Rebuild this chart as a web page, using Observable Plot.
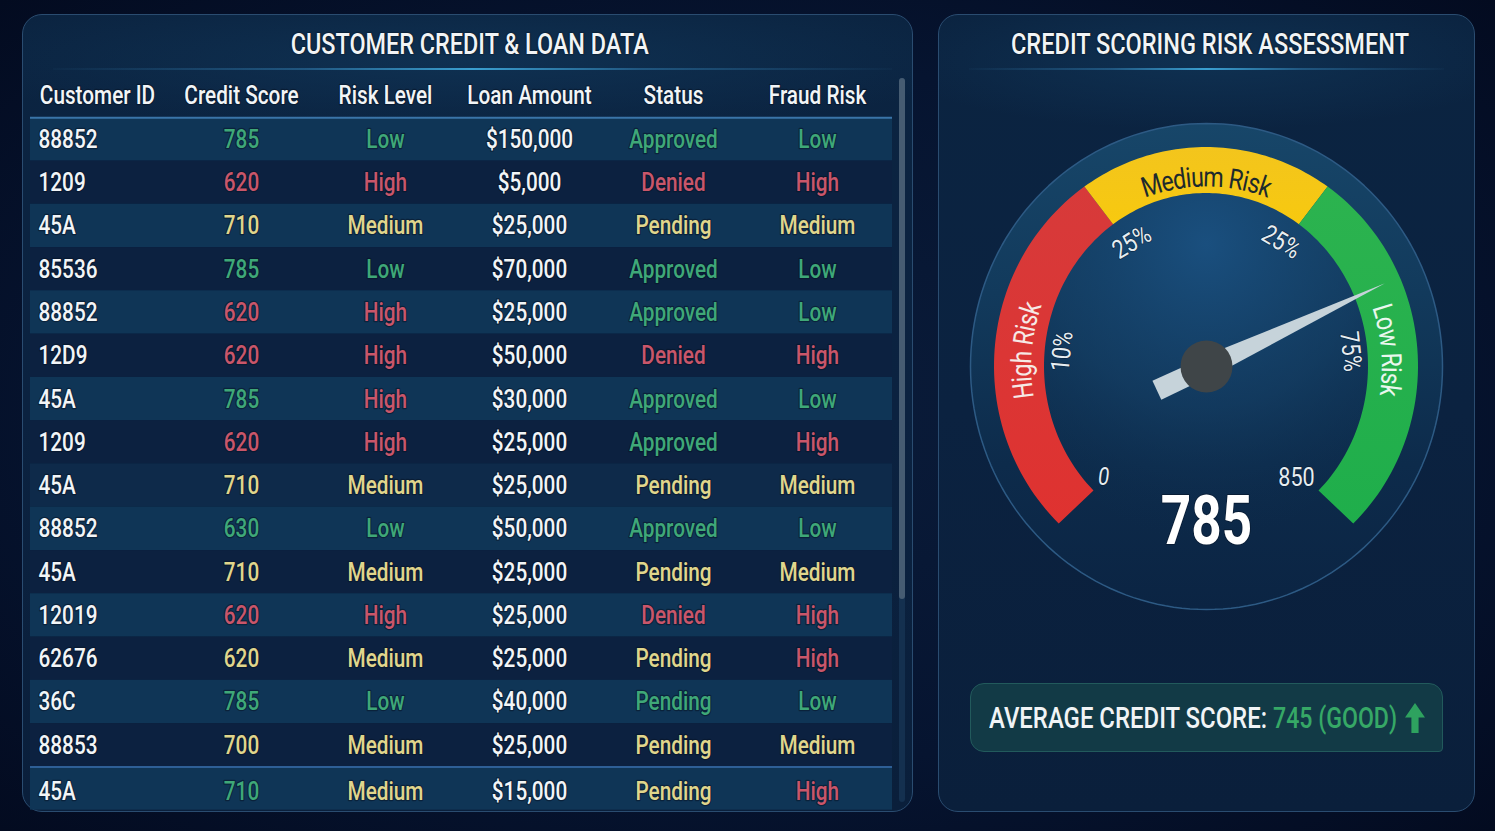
<!DOCTYPE html>
<html>
<head>
<meta charset="utf-8">
<script src="https://cdn.jsdelivr.net/npm/d3@7"></script>
<script src="https://cdn.jsdelivr.net/npm/@observablehq/plot@0.6"></script>
<style>
  html, body { margin: 0; padding: 0; width: 1495px; height: 831px; overflow: hidden; background: #050f26; }
  body { font-family: Roboto, "Liberation Sans", sans-serif; color: #f1f4f6; position: relative;
         background: radial-gradient(ellipse at 50% 50%, #0a1c3a 0%, #061430 60%, #030b20 100%); }
  .panel { position: absolute; top: 14px; height: 796px; border: 1.5px solid #2a4c70; border-radius: 20px; box-sizing: content-box;
           background: radial-gradient(ellipse 60% 70px at 50% 45px, #0f3152 0%, rgba(15,49,82,0) 100%), linear-gradient(180deg, #0b2441 0%, #0b2240 50%, #0a1f3b 100%); }
  #left { left: 22px; width: 889px; }
  #right { left: 938px; width: 535px; }
  .title { position: absolute; top: 14px; left: 0; right: 0; text-align: center; font-size: 29px; font-weight: 500; line-height: 30px; white-space: nowrap; }
  .title span { display: inline-block; transform-origin: 50% 50%; text-shadow: 0 0 2px #000; }
  #left .title { left: 4px; }
  #right .title { left: 6px; }
  .rule { position: absolute; top: 53px; height: 2px; background: linear-gradient(90deg, rgba(50,110,150,.05), rgba(47,120,170,.55) 30%, #3a9fd0 50%, rgba(47,120,170,.55) 70%, rgba(50,110,150,.05)); }
  #left .rule { left: 30px; right: 20px; }
  #right .rule { left: 30px; right: 30px; }
  .abs { position: absolute; }
  .abs svg { display: block; overflow: visible; }
  #table { left: 30px; top: 74px; }
  #gauge { left: 938px; top: 70px; }
  #track { position: absolute; left: 876px; top: 63px; width: 6px; height: 724px; border-radius: 3px; background: #14304f; }
  #thumb { position: absolute; left: 876px; top: 63px; width: 6px; height: 521px; border-radius: 3px; background: #465c72; }
  #avg { position: absolute; left: 970px; top: 683px; width: 471px; height: 67px; background: #123a46; border: 1.5px solid #225a5c;
         border-radius: 14px 14px 4px 14px; }
  #avg span { position: absolute; top: 18px; font-size: 29px; font-weight: 500; line-height: 32px; white-space: nowrap; transform-origin: 0 50%; }
  #avgA { left: 18px; }
  #avgB { left: 302px; color: #36a866; }
  #arrow { position: absolute; left: 434px; top: 19px; width: 20px; height: 30px; background: #2ea25f;
           clip-path: polygon(50% 0, 100% 48%, 68% 48%, 68% 100%, 32% 100%, 32% 48%, 0 48%); }
</style>
</head>
<body>
<div class="panel" id="left">
  <div class="title"><span id="titleL">CUSTOMER CREDIT &amp; LOAN DATA</span></div>
  <div class="rule"></div>
  <div id="track"></div><div id="thumb"></div>
</div>
<div class="panel" id="right">
  <div class="title"><span id="titleR">CREDIT SCORING RISK ASSESSMENT</span></div>
  <div class="rule"></div>
</div>
<div class="abs" id="table"></div>
<div class="abs" id="gauge"></div>
<div id="avg"><span id="avgA">AVERAGE CREDIT SCORE:</span><span id="avgB">745 (GOOD)</span><div id="arrow"></div></div>

<script>
// ---- table data ----
const columns = ["Customer ID", "Credit Score", "Risk Level", "Loan Amount", "Status", "Fraud Risk"];
const customerIds = ["88852","1209","45A","85536","88852","12D9","45A","1209","45A","88852","45A","12019","62676","36C","88853","45A"];
const creditScores = ["785","620","710","785","620","620","785","620","710","630","710","620","620","785","700","710"];
const scoreTones = ["good","bad","warn","good","bad","bad","good","bad","warn","good","warn","bad","warn","good","warn","good"];
const riskLevels = ["Low","High","Medium","Low","High","High","High","High","Medium","Low","Medium","High","Medium","Low","Medium","Medium"];
const loanAmounts = ["$150,000","$5,000","$25,000","$70,000","$25,000","$50,000","$30,000","$25,000","$25,000","$50,000","$25,000","$25,000","$25,000","$40,000","$25,000","$15,000"];
const statuses = ["Approved","Denied","Pending","Approved","Approved","Denied","Approved","Approved","Pending","Approved","Pending","Denied","Pending","Pending","Pending","Pending"];
const statusTones = ["good","bad","warn","good","good","bad","good","good","warn","good","warn","bad","warn","good","warn","warn"];
const fraudRisks = ["Low","High","Medium","Low","Low","High","Low","High","Medium","Low","Medium","High","High","Low","Medium","High"];
const rowStripes = ["light","dark","light","dark","light","dark","light","dark","mid","light","dark","light","dark","light","dark","light"];
const wordTone = {Low: "good", High: "bad", Medium: "warn"};

const toneNames = ["head","good","bad","warn","light","mid","dark"];
const toneColors = ["#f2f5f7","#3fa878","#c9566a","#e0d68c","#0f3556","#0e2a4a","#0c2140"];

// ---- gauge data (angles in degrees from the top, clockwise) ----
const gaugeZones = [
  {name: "High Risk", from: -136, to: -35, color: "url(#zoneRed)"},
  {name: "Medium Risk", from: -35, to: 35, color: "url(#zoneYellow)"},
  {name: "Low Risk", from: 35, to: 136, color: "url(#zoneGreen)"}
];
const zoneLabels = [
  {text: "High Risk", at: -85, fill: "#f6e9e6"},
  {text: "Medium Risk", at: 0, fill: "#1d2a2c"},
  {text: "Low Risk", at: 85, fill: "#eaf7ee"}
];
const gaugeTicks = [
  {text: "25%", at: -31, tilt: -31, style: "normal"},
  {text: "25%", at: 31, tilt: 31, style: "normal"},
  {text: "10%", at: -84, tilt: -84, style: "normal"},
  {text: "75%", at: 84, tilt: 84, style: "normal"},
  {text: "0", at: -137, tilt: 0, style: "italic"},
  {text: "850", at: 141, tilt: 0, style: "normal"}
];
const needleAngle = 65;
const needleAlong = [-55, 25, 197, 25, -55];
const needleAcross = [-10, -9, 0, 10, 11];
const shownScore = "785";

const narrow = 0.83;

// ---- table ----
const cells = [];
columns.forEach(c => cells.push({col: c, row: 0, text: c, tone: "head", head: true}));
customerIds.forEach((id, i) => {
  const row = i === 15 ? 16.07 : i + 1;
  cells.push({col: columns[0], row, text: id, tone: "head", first: true});
  cells.push({col: columns[1], row, text: creditScores[i], tone: scoreTones[i]});
  cells.push({col: columns[2], row, text: riskLevels[i], tone: wordTone[riskLevels[i]]});
  cells.push({col: columns[3], row, text: loanAmounts[i], tone: "head"});
  cells.push({col: columns[4], row, text: statuses[i], tone: statusTones[i]});
  cells.push({col: columns[5], row, text: fraudRisks[i], tone: wordTone[fraudRisks[i]]});
});
const stripes = rowStripes.map((s, i) => ({y1: i + 0.5, y2: i === 15 ? 16.5 : i + 1.5, tone: s}));
const fontFamily = 'Roboto,"Liberation Sans",sans-serif';
const halo = {stroke: "#061224", strokeWidth: 2.5, strokeOpacity: 0.55};

const table = Plot.plot({
  width: 862, height: 740, margin: 0,
  style: {background: "transparent", fontFamily},
  x: {type: "point", domain: columns, range: [65, 788], padding: 0, axis: null},
  y: {domain: [-0.5, 16.6], range: [0, 740], axis: null},
  color: {domain: toneNames, range: toneColors},
  marks: [
    Plot.rect(stripes, {y1: "y1", y2: "y2", fill: "tone"}),
    Plot.ruleY([0.5], {stroke: "#3a74a8", strokeWidth: 2}),
    Plot.ruleY([15.5], {stroke: "#2e5f96", strokeWidth: 2}),
    Plot.text(cells.filter(d => d.head), {x: "col", y: "row", text: "text", fill: "tone", fontSize: 25, fontWeight: 500, ...halo}),
    Plot.text(cells.filter(d => !d.head && !d.first), {x: "col", y: "row", text: "text", fill: "tone", fontSize: 25, fontWeight: 500, dy: 0.5, ...halo}),
    Plot.text(cells.filter(d => d.first), {x: "col", y: "row", text: "text", fill: "tone", fontSize: 25, fontWeight: 500, textAnchor: "start", dx: -59, dy: 0.5, ...halo})
  ]
});
document.getElementById("table").appendChild(table);

// ---- gauge geometry helpers ----
const rad = d => d * Math.PI / 180;
const ellipse = (a, rx, ry) => ({x: rx * Math.sin(rad(a)), y: ry * Math.cos(rad(a))});
const discOutline = d3.range(0, 361, 2).map(a => ellipse(a, 236, 243));
const innerGlow = d3.range(0, 361, 2).map(a => ellipse(a, 170, 175));
const band = z => d3.range(z.from, z.to + 0.01, (z.to - z.from) / 60).map(a => {
  const o = ellipse(a, 212, 219), i = ellipse(a, 162, 173);
  return {x1: o.x, y1: o.y, x2: i.x, y2: i.y, zone: z.name};
});
const bandPoints = gaugeZones.flatMap(band);

const zoneSize = 28;
const measure = document.createElement("canvas").getContext("2d");
function curved(label, size, rPx) {
  measure.font = `400 ${size}px Roboto`;
  const total = measure.measureText(label.text).width * narrow;
  let used = 0;
  return Array.from(label.text).map(ch => {
    const w = measure.measureText(ch).width * narrow;
    const a = label.at + ((used + w / 2 - total / 2) / rPx) * 180 / Math.PI;
    used += w;
    const p = ellipse(a, rPx * 0.975, rPx);
    return {x: p.x, y: p.y, ch, rot: a, fill: label.fill};
  });
}
const zoneChars = zoneLabels.flatMap(l => curved(l, zoneSize, 189));

const tickPts = gaugeTicks.map(t => {
  const r = t.style === "italic" ? 151 : (t.at === 141 ? 143 : 145);
  const p = ellipse(t.at, r, r);
  return {...t, x: p.x, y: p.y};
});

const ux = Math.sin(rad(needleAngle)), uy = Math.cos(rad(needleAngle));
const needle = needleAlong.map((s, i) => ({x: s * ux + needleAcross[i] * uy, y: s * uy - needleAcross[i] * ux}));

const defs = () => {
  const d = d3.create("svg:defs");
  const lin = (id, stops, x2 = 0, y2 = 1) => {
    const g = d.append("linearGradient").attr("id", id).attr("x1", 0).attr("y1", 0).attr("x2", x2).attr("y2", y2);
    stops.forEach(([o, c]) => g.append("stop").attr("offset", o).attr("stop-color", c));
  };
  lin("discFill", [[0, "#174669"], [0.35, "#123a5c"], [0.7, "#0d2b4b"], [1, "#0b2443"]]);
  lin("zoneRed", [[0, "#d73a3a"], [1, "#df3230"]]);
  lin("zoneYellow", [[0, "#f3c51d"], [1, "#f7c90f"]]);
  lin("zoneGreen", [[0, "#2cb34f"], [1, "#1fae4b"]]);
  const r = d.append("radialGradient").attr("id", "innerFill").attr("cx", 0.5).attr("cy", 0.15).attr("r", 0.85);
  r.append("stop").attr("offset", 0).attr("stop-color", "#1a5080").attr("stop-opacity", 0.95);
  r.append("stop").attr("offset", 0.55).attr("stop-color", "#143f66").attr("stop-opacity", 0.6);
  r.append("stop").attr("offset", 1).attr("stop-color", "#0c2a4a").attr("stop-opacity", 0);
  return d.node();
};

const gauge = Plot.plot({
  width: 537, height: 560, margin: 0,
  style: {background: "transparent", fontFamily},
  x: {domain: [-268, 269], range: [0, 537], axis: null},
  y: {domain: [-264, 296], range: [560, 0], axis: null},
  marks: [
    defs,
    Plot.line(discOutline, {x: "x", y: "y", fill: "url(#discFill)", stroke: "#2d5a84", strokeWidth: 1.5}),
    Plot.line(innerGlow, {x: "x", y: "y", fill: "url(#innerFill)", stroke: "none"}),
    ...gaugeZones.map(z => Plot.area(bandPoints.filter(p => p.zone === z.name),
      {x1: "x1", y1: "y1", x2: "x2", y2: "y2", fill: z.color, curve: "linear"})),
    Plot.text(zoneChars, {x: "x", y: "y", text: "ch", rotate: "rot", fill: "fill", fontSize: zoneSize, fontWeight: 400}),
    Plot.text(tickPts.filter(t => t.style === "normal"), {x: "x", y: "y", text: "text", rotate: "tilt", fill: "#e6edf1", fontSize: 26, ...halo, strokeWidth: 1.5}),
    Plot.text(tickPts.filter(t => t.style === "italic"), {x: "x", y: "y", text: "text", fill: "#e6edf1", fontSize: 25, fontStyle: "italic", ...halo, strokeWidth: 1.5}),
    Plot.line(needle.concat(needle[0]), {x: "x", y: "y", fill: "#c6d3da", stroke: "none"}),
    Plot.dot([{x: 0, y: 0}], {x: "x", y: "y", r: 26, fill: "#3f4548"}),
    Plot.text([shownScore], {x: [0], y: [-155], text: d => d, fill: "#ffffff", fontSize: 69, fontWeight: 700, className: "bigscore", ...halo, strokeWidth: 2})
  ]
});
document.getElementById("gauge").appendChild(gauge);

// ---- the reference lettering is condensed: narrow every real text along its own direction ----
document.querySelectorAll("#table svg text, #gauge svg text").forEach(t => {
  const k = t.closest(".bigscore") ? 0.77 : narrow;
  const len = t.getComputedTextLength();
  if (len > 0) { t.setAttribute("textLength", len * k); t.setAttribute("lengthAdjust", "spacingAndGlyphs"); }
});
[["titleL", 358], ["titleR", 398], ["avgA", 278], ["avgB", 124]].forEach(([id, target]) => {
  const el = document.getElementById(id);
  el.style.transform = `scaleX(${target / el.getBoundingClientRect().width})`;
});
</script>
</body>
</html>
